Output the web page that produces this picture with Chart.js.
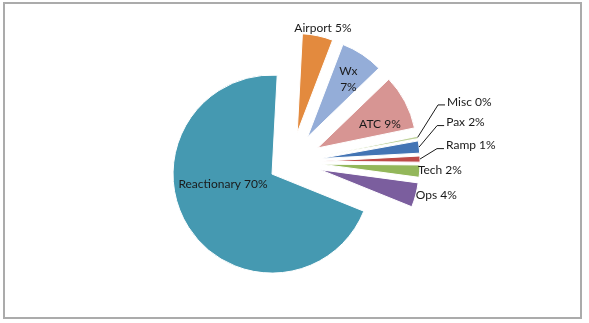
<!DOCTYPE html>
<html><head><meta charset="utf-8">
<script src="https://cdn.jsdelivr.net/npm/chart.js@4.4.1/dist/chart.umd.min.js"></script>
<style>
html,body{margin:0;padding:0;background:#fff;}
#wrap{position:absolute;left:0;top:0;width:589px;height:323px;}
#frame{position:absolute;left:3px;top:2px;width:579px;height:317px;border:2px solid #ababab;box-sizing:border-box;pointer-events:none}
canvas{position:absolute;left:0;top:0}
</style></head><body>
<div id="wrap"><canvas id="c" width="589" height="323"></canvas><div id="frame"></div></div>
<script>
// ---- data ----
const categories = ['Airport','Wx','ATC','Misc','Pax','Ramp','Tech','Ops','Reactionary'];
const shares = [5, 7, 9, 0.4, 2, 1, 2, 4, 70];
const sliceColors = ['#E38A3E','#94ADD8','#D79593','#BDD199','#4374B4','#BE4B48','#93B75A','#7B5E9E','#4599B1'];

// ---- layout / style (not data) ----
const explodeBy = [30,30,30,30,30,30,30,30,22.5];
// label placement relative to each (exploded) slice centre: angle clockwise from 12 o'clock, distance px
const labelPlacement = [
  {mode:'center', angle:13.8, dist:107.8},
  {mode:'center', angle:35.4, dist:70.6, wrap:true},
  {mode:'center', angle:68.9, dist:66.9},
  {mode:'leader', angle:66.4, dist:128.3},
  {mode:'leader', angle:74.2, dist:120.9},
  {mode:'leader', angle:83.75, dist:116.7},
  {mode:'left', angle:93.8, dist:97.2},
  {mode:'left', angle:105.1, dist:99.3},
  {mode:'center', angle:258.8, dist:50}
];
const FONT = '12px Lato, "Open Sans", sans-serif';

const total = shares.reduce((a,b)=>a+b,0);

const explodePlugin = {
  id:'explode',
  afterDatasetsUpdate(chart){
    const meta = chart.getDatasetMeta(0);
    meta.data.forEach((arc,i)=>{
      const mid=(arc.startAngle+arc.endAngle)/2;
      arc.x += Math.cos(mid)*explodeBy[i];
      arc.y += Math.sin(mid)*explodeBy[i];
    });
  }
};

const labelPlugin = {
  id:'sliceLabels',
  afterDatasetsDraw(chart){
    const ctx = chart.ctx;
    const meta = chart.getDatasetMeta(0);
    ctx.save();
    ctx.font = FONT;
    ctx.fillStyle = '#1a1a1a';
    ctx.strokeStyle = '#1a1a1a';
    ctx.lineWidth = 1;
    meta.data.forEach((arc,i)=>{
      const p = labelPlacement[i];
      const th = p.angle*Math.PI/180;
      const px = arc.x + Math.sin(th)*p.dist;
      const py = arc.y - Math.cos(th)*p.dist;
      const pct = Math.round(shares[i]/total*100)+'%';
      if (p.mode==='center'){
        ctx.textAlign='center'; ctx.textBaseline='middle';
        if (p.wrap){
          ctx.fillText(categories[i], px, py-8);
          ctx.fillText(pct, px, py+8);
        } else ctx.fillText(categories[i]+' '+pct, px, py);
      } else if (p.mode==='left'){
        ctx.textAlign='left'; ctx.textBaseline='middle';
        ctx.fillText(categories[i]+' '+pct, px, py);
      } else {
        const mid=(arc.startAngle+arc.endAngle)/2;
        const r = arc.outerRadius;
        const sx = arc.x + Math.cos(mid)*r, sy = arc.y + Math.sin(mid)*r;
        ctx.beginPath();
        ctx.moveTo(sx, sy);
        ctx.lineTo(px, py);
        ctx.lineTo(px+7, py);
        ctx.stroke();
        ctx.textAlign='left'; ctx.textBaseline='middle';
        ctx.fillText(categories[i]+' '+pct, px+9, py-3);
      }
    });
    ctx.restore();
  }
};

new Chart(document.getElementById('c'), {
  type:'pie',
  data:{
    labels: categories,
    datasets:[{
      data: shares,
      backgroundColor: sliceColors,
      borderColor:'#ffffff',
      borderWidth:1
    }]
  },
  options:{
    responsive:false,
    animation:false,
    events:[],
    radius:99,
    rotation:3,
    layout:{padding:{left:0,right:7,top:1,bottom:0}},
    plugins:{legend:{display:false}, tooltip:{enabled:false}}
  },
  plugins:[explodePlugin, labelPlugin]
});
</script>
</body></html>
